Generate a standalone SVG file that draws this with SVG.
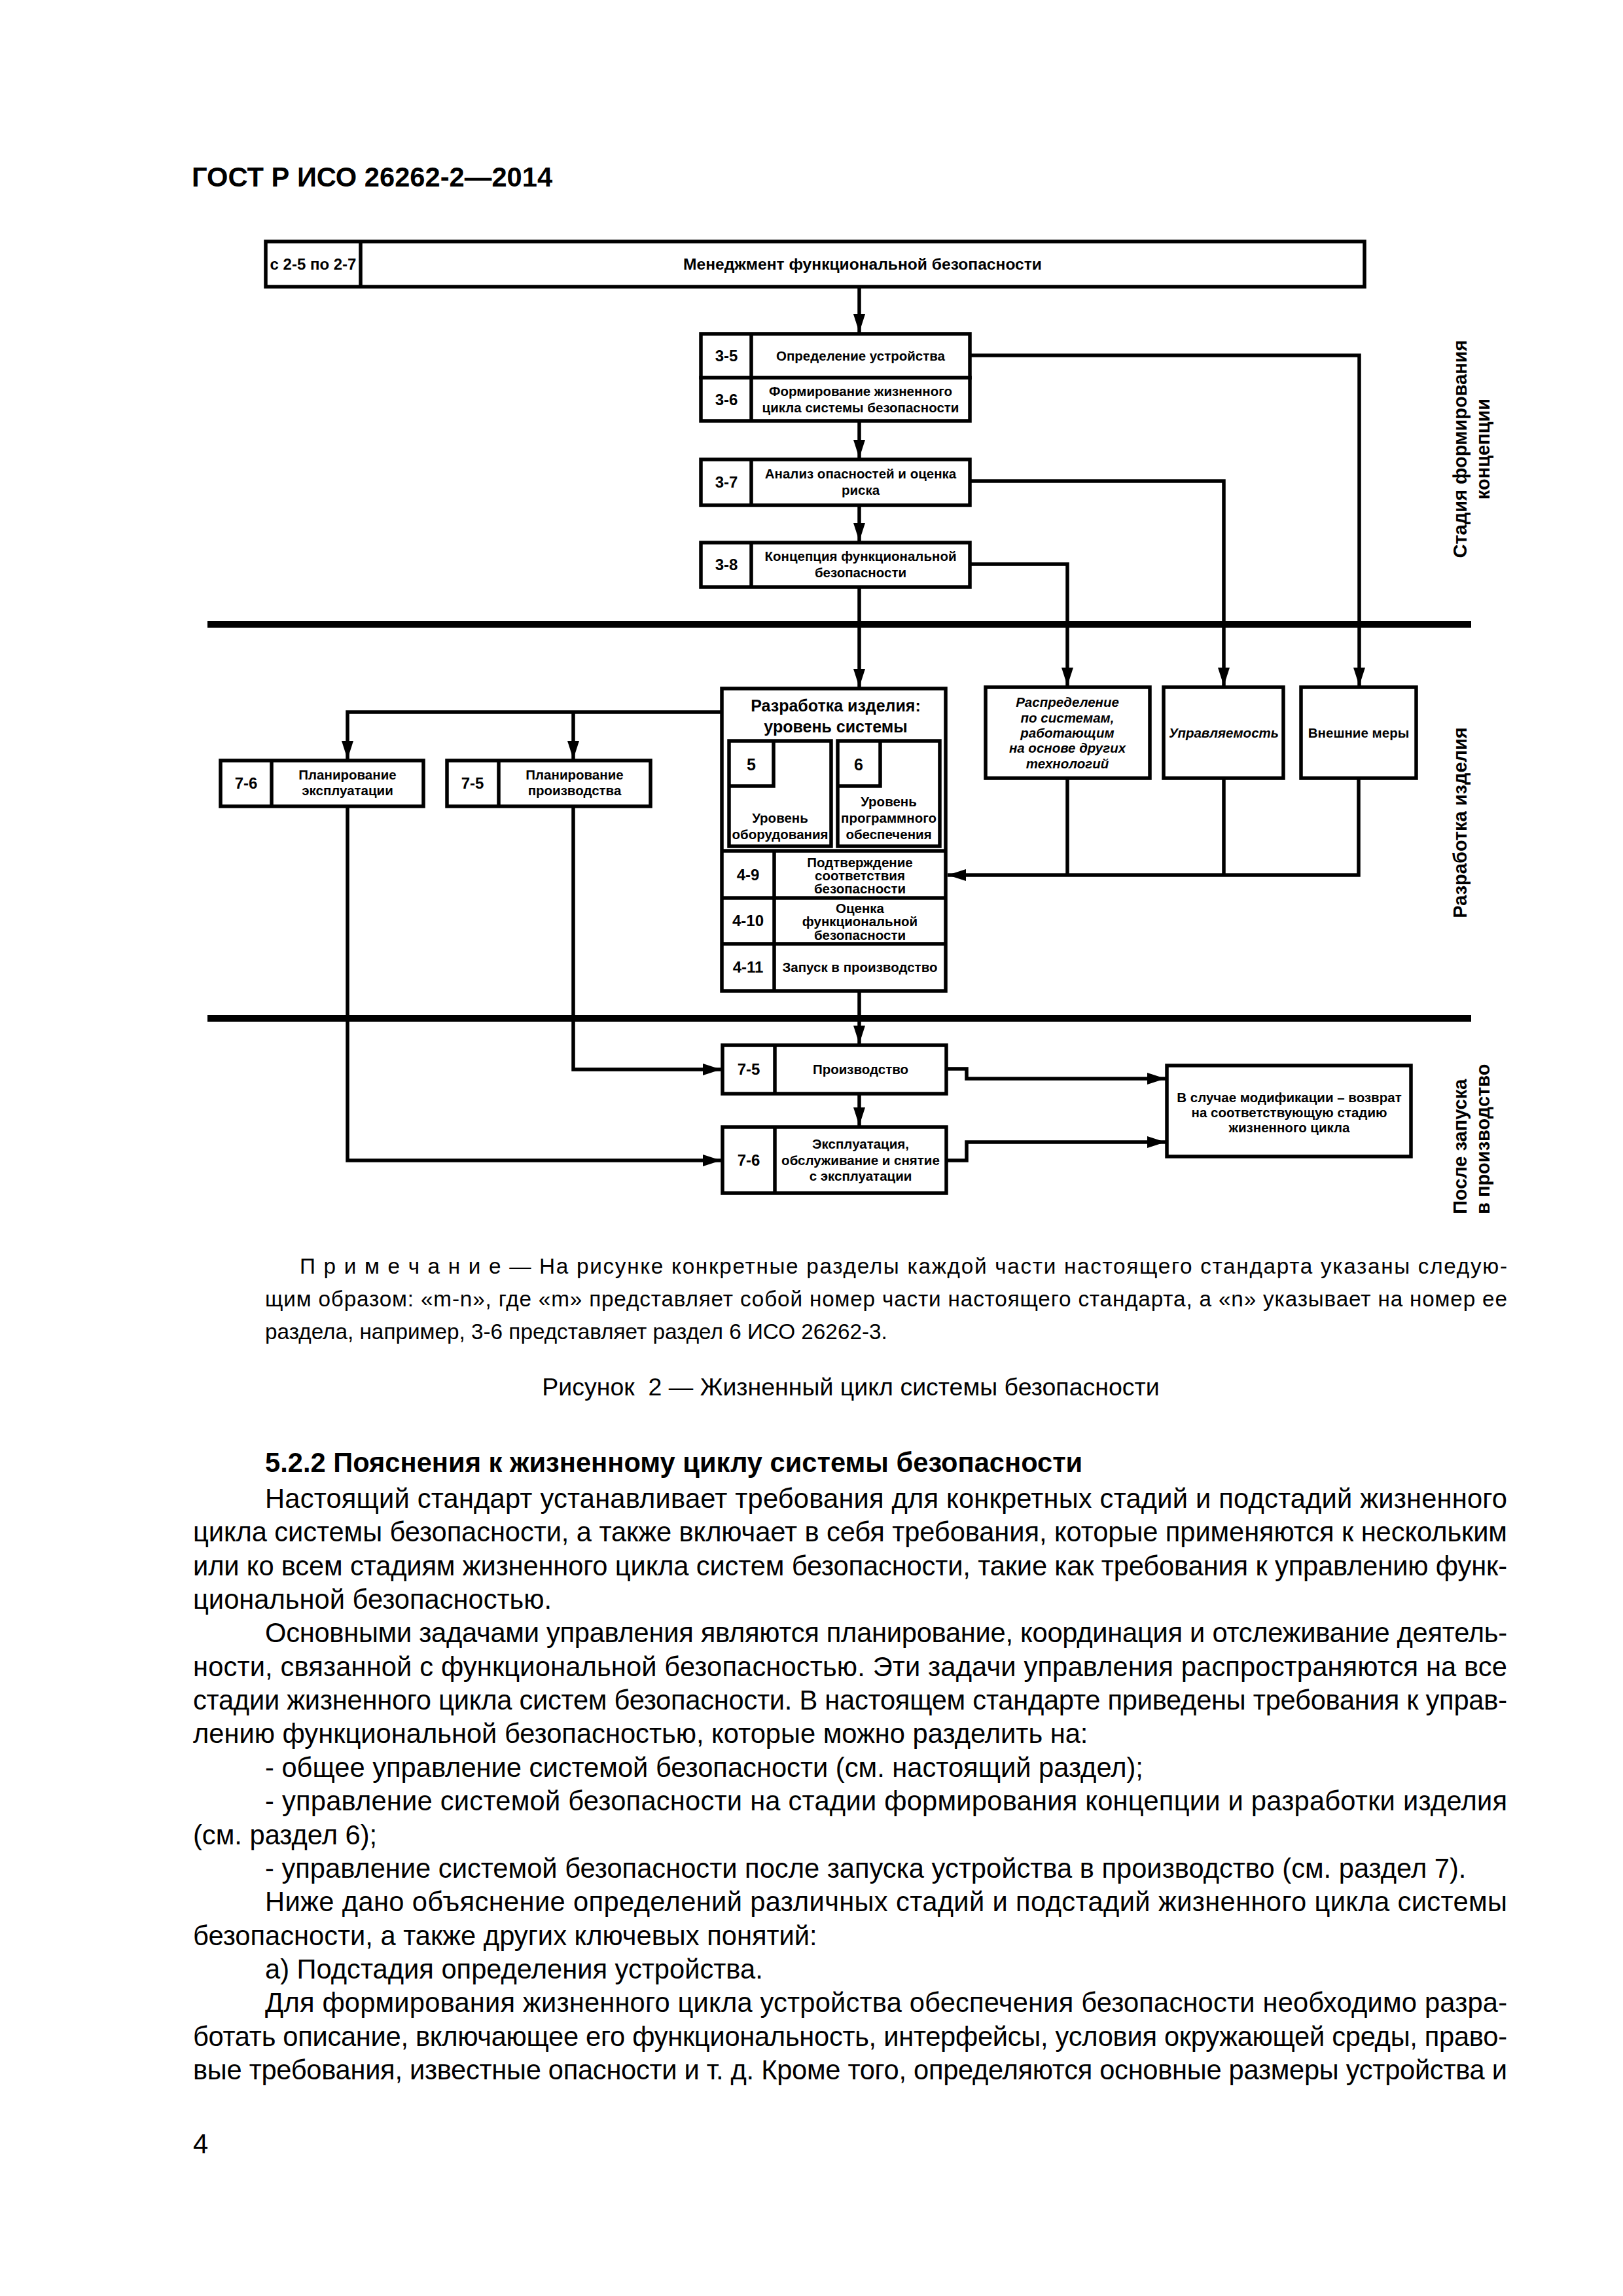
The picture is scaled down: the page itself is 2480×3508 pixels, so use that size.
<svg xmlns="http://www.w3.org/2000/svg" width="2480" height="3508" viewBox="0 0 2480 3508">
<defs>
<marker id="ah" markerUnits="userSpaceOnUse" markerWidth="30" markerHeight="20" refX="28" refY="9" orient="auto">
<path d="M0,0 L28,9 L0,18 z" fill="#000"/>
</marker>
<style>
.b{fill:#fff;stroke:#000;stroke-width:5.5}
.l{fill:none;stroke:#000;stroke-width:5.5}
.a{fill:none;stroke:#000;stroke-width:5.5;marker-end:url(#ah)}
.sep{fill:none;stroke:#000;stroke-width:10}
text{font-family:"Liberation Sans",Arial,sans-serif;fill:#000}
.t{font-weight:bold;font-size:20.5px;text-anchor:middle}
.i{font-style:italic}
.n{font-weight:bold;font-size:24px;text-anchor:middle}
.m{font-weight:bold;font-size:24.6px;text-anchor:middle}
.h{font-weight:bold;font-size:25px;text-anchor:middle}
.v{font-weight:bold;font-size:29px}
.body{font-size:41.67px}
.note{font-size:33.3px}
.cap{font-size:37.5px;text-anchor:middle;white-space:pre}
.bold{font-weight:bold;font-size:41.67px}
</style>
</defs>
<rect width="2480" height="3508" fill="#fff"/>

<text class="bold" x="293" y="285">ГОСТ Р ИСО 26262-2—2014</text>

<g id="connectors">
<path class="a" d="M1313,440 V508"/>
<path class="a" d="M1313,643 V700"/>
<path class="a" d="M1313,772 V827"/>
<path class="a" d="M1313,897 V1050"/>
<path class="a" d="M1482,543 H2077 V1048"/>
<path class="a" d="M1482,735 H1870 V1048"/>
<path class="a" d="M1482,862 H1631 V1048"/>
<path class="a" d="M1103,1088 H531 V1160"/>
<path class="a" d="M876,1088 V1160"/>
<path class="l" d="M1631,1189 V1337"/>
<path class="l" d="M1870,1189 V1337"/>
<path class="a" d="M2076,1189 V1337 H1448"/>
<path class="a" d="M1313,1514 V1595"/>
<path class="a" d="M876,1232 V1634 H1102"/>
<path class="a" d="M531,1232 V1773 H1102"/>
<path class="a" d="M1313,1671 V1720"/>
<path class="a" d="M1446,1633 H1477 V1648 H1781"/>
<path class="a" d="M1446,1773 H1477 V1745 H1781"/>
<path class="sep" d="M317,954 H2248"/>
<path class="sep" d="M317,1556 H2248"/>
</g>

<g id="mgmt">
<rect class="b" x="406" y="369" width="1679" height="69"/>
<path class="l" d="M551,369 V438"/>
<text class="n" x="478.5" y="412">с 2-5 по 2-7</text>
<text class="m" x="1318" y="412">Менеджмент функциональной безопасности</text>
</g>

<g id="n3-5">
<rect class="b" x="1071" y="510" width="411" height="67"/>
<path class="l" d="M1148,510 V577"/>
<text class="n" x="1110" y="552">3-5</text>
<text class="t" x="1315" y="551">Определение устройства</text>
</g>
<g id="n3-6">
<rect class="b" x="1071" y="577" width="411" height="66"/>
<path class="l" d="M1148,577 V643"/>
<text class="n" x="1110" y="619">3-6</text>
<text class="t" x="1315" y="605">Формирование жизненного</text>
<text class="t" x="1315" y="630">цикла системы безопасности</text>
</g>
<g id="n3-7">
<rect class="b" x="1071" y="702" width="411" height="70"/>
<path class="l" d="M1148,702 V772"/>
<text class="n" x="1110" y="745">3-7</text>
<text class="t" x="1315" y="731">Анализ опасностей и оценка</text>
<text class="t" x="1315" y="756">риска</text>
</g>
<g id="n3-8">
<rect class="b" x="1071" y="829" width="411" height="68"/>
<path class="l" d="M1148,829 V897"/>
<text class="n" x="1110" y="871">3-8</text>
<text class="t" x="1315" y="857">Концепция функциональной</text>
<text class="t" x="1315" y="882">безопасности</text>
</g>

<g id="dev">
<rect class="b" x="1103" y="1052" width="342" height="462"/>
<path class="l" d="M1103,1300 H1445 M1103,1372 H1445 M1103,1442 H1445 M1183,1300 V1514"/>
<text class="h" x="1277" y="1087">Разработка изделия:</text>
<text class="h" x="1277" y="1119">уровень системы</text>
</g>
<g id="hw">
<rect class="b" x="1114" y="1132" width="156" height="161"/>
<path class="l" d="M1114,1201 H1182 V1132"/>
<text class="h" x="1148" y="1177">5</text>
<text class="t" x="1192" y="1257">Уровень</text>
<text class="t" x="1192" y="1282">оборудования</text>
</g>
<g id="sw">
<rect class="b" x="1280" y="1132" width="156" height="161"/>
<path class="l" d="M1280,1201 H1345 V1132"/>
<text class="h" x="1312" y="1177">6</text>
<text class="t" x="1358" y="1232">Уровень</text>
<text class="t" x="1358" y="1257">программного</text>
<text class="t" x="1358" y="1282">обеспечения</text>
</g>
<g id="n4-9">
<text class="n" x="1143" y="1345">4-9</text>
<text class="t" x="1314" y="1325">Подтверждение</text>
<text class="t" x="1314" y="1345">соответствия</text>
<text class="t" x="1314" y="1365">безопасности</text>
</g>
<g id="n4-10">
<text class="n" x="1143" y="1415">4-10</text>
<text class="t" x="1314" y="1395">Оценка</text>
<text class="t" x="1314" y="1415">функциональной</text>
<text class="t" x="1314" y="1436">безопасности</text>
</g>
<g id="n4-11">
<text class="n" x="1143" y="1486">4-11</text>
<text class="t" x="1314" y="1485">Запуск в производство</text>
</g>

<g id="plan76">
<rect class="b" x="337" y="1162" width="310" height="70"/>
<path class="l" d="M415,1162 V1232"/>
<text class="n" x="376" y="1205">7-6</text>
<text class="t" x="531" y="1191">Планирование</text>
<text class="t" x="531" y="1215">эксплуатации</text>
</g>
<g id="plan75">
<rect class="b" x="683" y="1162" width="311" height="70"/>
<path class="l" d="M762,1162 V1232"/>
<text class="n" x="722" y="1205">7-5</text>
<text class="t" x="878" y="1191">Планирование</text>
<text class="t" x="878" y="1215">производства</text>
</g>

<g id="alloc">
<rect class="b" x="1506" y="1050" width="251" height="139"/>
<text class="t i" x="1631" y="1080">Распределение</text>
<text class="t i" x="1631" y="1104">по системам,</text>
<text class="t i" x="1631" y="1127">работающим</text>
<text class="t i" x="1631" y="1150">на основе других</text>
<text class="t i" x="1631" y="1174">технологий</text>
</g>
<g id="ctrl">
<rect class="b" x="1778" y="1050" width="183" height="139"/>
<text class="t i" x="1870" y="1127">Управляемость</text>
</g>
<g id="ext">
<rect class="b" x="1988" y="1050" width="176" height="139"/>
<text class="t" x="2076" y="1127">Внешние меры</text>
</g>

<g id="prod">
<rect class="b" x="1104" y="1597" width="342" height="74"/>
<path class="l" d="M1184,1597 V1671"/>
<text class="n" x="1144" y="1642">7-5</text>
<text class="t" x="1315" y="1641">Производство</text>
</g>
<g id="oper">
<rect class="b" x="1104" y="1722" width="342" height="101"/>
<path class="l" d="M1184,1722 V1823"/>
<text class="n" x="1144" y="1781">7-6</text>
<text class="t" x="1315" y="1755">Эксплуатация,</text>
<text class="t" x="1315" y="1780">обслуживание и снятие</text>
<text class="t" x="1315" y="1804">с эксплуатации</text>
</g>
<g id="modif">
<rect class="b" x="1783" y="1628" width="373" height="139"/>
<text class="t" x="1970" y="1684">В случае модификации – возврат</text>
<text class="t" x="1970" y="1707">на соответствующую стадию</text>
<text class="t" x="1970" y="1730">жизненного цикла</text>
</g>

<g id="phases">
<text class="v" text-anchor="middle" transform="translate(2241,686) rotate(-90)">Стадия формирования</text>
<text class="v" text-anchor="middle" transform="translate(2276,686) rotate(-90)">концепции</text>
<text class="v" text-anchor="middle" transform="translate(2241,1257) rotate(-90)">Разработка изделия</text>
<text class="v" transform="translate(2241,1855) rotate(-90)">После запуска</text>
<text class="v" transform="translate(2276,1855) rotate(-90)">в производство</text>
</g>

<g id="text">
<text class="note" x="458" y="1946" textLength="1845" lengthAdjust="spacing">П р и м е ч а н и е — На рисунке конкретные разделы каждой части настоящего стандарта указаны следую-</text>
<text class="note" x="405" y="1996" textLength="1898" lengthAdjust="spacing">щим образом: «m-n», где «m» представляет собой номер части настоящего стандарта, а «n» указывает на номер ее</text>
<text class="note" x="405" y="2046">раздела, например, 3-6 представляет раздел 6 ИСО 26262-3.</text>
<text class="cap" x="1300" y="2132">Рисунок  2 — Жизненный цикл системы безопасности</text>
<text class="bold" x="405" y="2249">5.2.2 Пояснения к жизненному циклу системы безопасности</text>
<text class="body" x="405" y="2304" textLength="1898" lengthAdjust="spacing">Настоящий стандарт устанавливает требования для конкретных стадий и подстадий жизненного</text>
<text class="body" x="295" y="2355" textLength="2008" lengthAdjust="spacing">цикла системы безопасности, а также включает в себя требования, которые применяются к нескольким</text>
<text class="body" x="295" y="2407" textLength="2008" lengthAdjust="spacing">или ко всем стадиям жизненного цикла систем безопасности, такие как требования к управлению функ-</text>
<text class="body" x="295" y="2458">циональной безопасностью.</text>
<text class="body" x="405" y="2509" textLength="1898" lengthAdjust="spacing">Основными задачами управления являются планирование, координация и отслеживание деятель-</text>
<text class="body" x="295" y="2561" textLength="2008" lengthAdjust="spacing">ности, связанной с функциональной безопасностью. Эти задачи управления распространяются на все</text>
<text class="body" x="295" y="2612" textLength="2008" lengthAdjust="spacing">стадии жизненного цикла систем безопасности. В настоящем стандарте приведены требования к управ-</text>
<text class="body" x="295" y="2663">лению функциональной безопасностью, которые можно разделить на:</text>
<text class="body" x="405" y="2715">- общее управление системой безопасности (см. настоящий раздел);</text>
<text class="body" x="405" y="2766" textLength="1898" lengthAdjust="spacing">- управление системой безопасности на стадии формирования концепции и разработки изделия</text>
<text class="body" x="295" y="2818">(см. раздел 6);</text>
<text class="body" x="405" y="2869">- управление системой безопасности после запуска устройства в производство (см. раздел 7).</text>
<text class="body" x="405" y="2920" textLength="1898" lengthAdjust="spacing">Ниже дано объяснение определений различных стадий и подстадий жизненного цикла системы</text>
<text class="body" x="295" y="2972">безопасности, а также других ключевых понятий:</text>
<text class="body" x="405" y="3023">а) Подстадия определения устройства.</text>
<text class="body" x="405" y="3074" textLength="1898" lengthAdjust="spacing">Для формирования жизненного цикла устройства обеспечения безопасности необходимо разра-</text>
<text class="body" x="295" y="3126" textLength="2008" lengthAdjust="spacing">ботать описание, включающее его функциональность, интерфейсы, условия окружающей среды, право-</text>
<text class="body" x="295" y="3177" textLength="2008" lengthAdjust="spacing">вые требования, известные опасности и т. д. Кроме того, определяются основные размеры устройства и</text>
<text class="body" x="295" y="3290">4</text>
</g>
</svg>
